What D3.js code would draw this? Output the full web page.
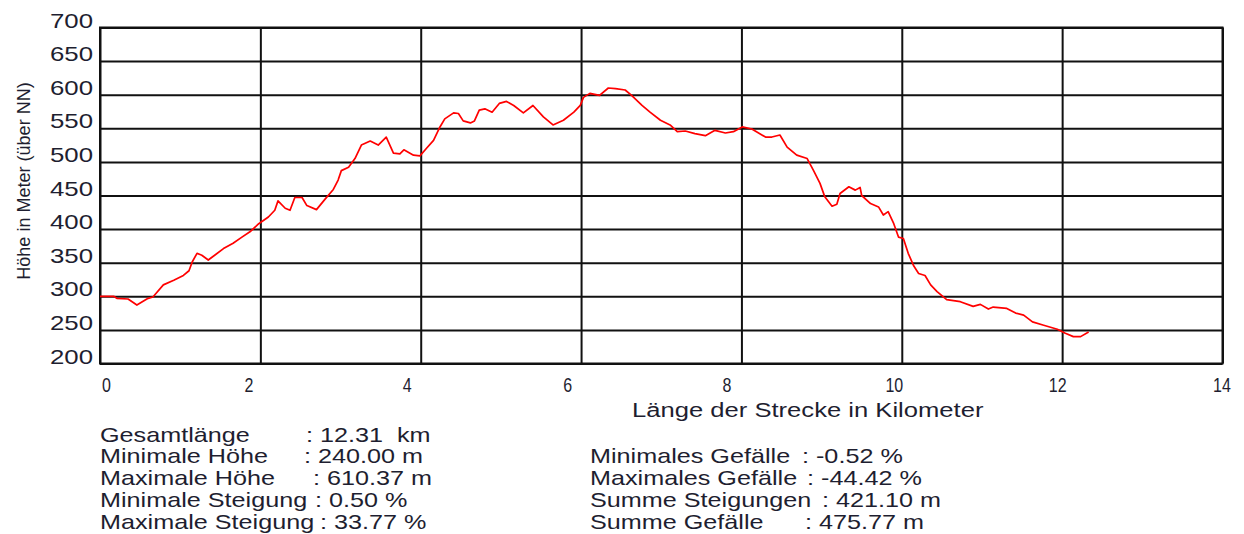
<!DOCTYPE html>
<html>
<head>
<meta charset="utf-8">
<script src="https://cdn.jsdelivr.net/npm/d3@7"></script>
<style>
  html, body { margin: 0; padding: 0; background: #ffffff; }
  svg { display: block; }
  text { font-family: "Liberation Sans", Arial, sans-serif; fill: #1e1e30; white-space: pre; }
</style>
</head>
<body>
<svg id="chart" width="1244" height="534"></svg>
<script>
// ---- data ----
const distanceKm = [0.00,0.17,0.21,0.35,0.46,0.60,0.66,0.79,0.92,1.04,1.11,1.15,1.21,1.27,1.35,1.43,1.54,1.66,1.77,1.87,1.98,2.10,2.18,2.22,2.31,2.37,2.43,2.52,2.58,2.70,2.81,2.91,2.97,3.01,3.10,3.18,3.26,3.37,3.47,3.57,3.66,3.74,3.79,3.91,3.99,4.07,4.16,4.24,4.30,4.41,4.47,4.53,4.62,4.67,4.73,4.80,4.89,4.98,5.07,5.16,5.28,5.40,5.53,5.65,5.78,5.91,5.99,6.03,6.11,6.23,6.34,6.43,6.55,6.63,6.76,6.86,6.99,7.11,7.20,7.30,7.42,7.55,7.67,7.80,7.90,8.01,8.13,8.30,8.38,8.48,8.57,8.69,8.82,8.90,8.98,9.04,9.13,9.19,9.23,9.34,9.42,9.48,9.50,9.61,9.71,9.77,9.83,9.90,9.96,10.02,10.08,10.15,10.21,10.29,10.36,10.44,10.56,10.73,10.89,10.98,11.08,11.14,11.31,11.42,11.52,11.63,11.77,11.94,12.04,12.14,12.23,12.33];
const elevationM = [300,300,297,296,287,297,299,317,324,331,338,351,364,361,354,361,371,379,388,396,408,418,428,442,431,428,447,447,435,429,445,459,473,487,492,505,525,531,525,537,513,512,518,510,509,520,532,552,564,573,572,561,558,561,577,579,574,587,590,584,573,584,567,555,562,574,584,596,602,599,610,609,607,599,584,574,562,555,545,546,542,539,547,543,545,552,549,537,537,540,522,510,505,487,468,448,434,437,453,463,458,462,450,438,433,421,426,408,388,386,364,345,334,331,317,307,295,292,285,288,281,284,282,275,272,262,257,251,245,240,240,247];

const yTickValues = [200,250,300,350,400,450,500,550,600,650,700];
const xTickValues = [0,2,4,6,8,10,12,14];

const yAxisTitle = "Höhe in Meter (über NN)";
const xAxisTitle = "Länge der Strecke in Kilometer";

const statsLeftLabels = ["Gesamtlänge", "Minimale Höhe", "Maximale Höhe", "Minimale Steigung", "Maximale Steigung"];
const statsLeftValues = [": 12.31  km", ": 240.00 m", ": 610.37 m", ": 0.50 %", ": 33.77 %"];
const statsRightLabels = ["Minimales Gefälle", "Maximales Gefälle", "Summe Steigungen", "Summe Gefälle"];
const statsRightValues = [": -0.52 %", ": -44.42 %", ": 421.10 m", ": 475.77 m"];

// ---- layout ----
const L = 100, R = 1222.5, T = 27.5, B = 363.5;
const textScale = 1.26;
const xLabelShift = [6, -12, -14, -14, -15, -8, -5, -1];
const leftColonX = [306, 304, 313, 315, 320];
const rightColonX = [802, 807, 822, 805];

const svg = d3.select("#chart");
svg.append("rect").attr("width", 1244).attr("height", 534).attr("fill", "#ffffff");

const x = d3.scaleLinear().domain([0, 14]).range([L, R]);
const y = d3.scaleLinear().domain([200, 700]).range([B, T]);

// horizontal grid + y labels
const gy = svg.append("g").attr("transform", `translate(${L},0)`)
  .call(d3.axisLeft(y).tickValues(yTickValues).tickSize(-(R - L)).tickFormat(d3.format("d")));
gy.select(".domain").remove();
gy.selectAll(".tick line").attr("stroke", "#111").attr("stroke-width", 2);
gy.selectAll(".tick text")
  .attr("x", null).attr("dy", null)
  .attr("text-anchor", "end")
  .attr("font-size", 20)
  .attr("fill", "#1e1e30")
  .attr("transform", "translate(-7,-0.5) scale(1.29,1)");

// vertical grid + x labels
const gx = svg.append("g").attr("transform", `translate(0,${B})`)
  .call(d3.axisBottom(x).tickValues(xTickValues).tickSize(-(B - T)).tickFormat(d3.format("d")));
gx.select(".domain").remove();
gx.selectAll(".tick line").attr("stroke", "#111").attr("stroke-width", 2);
gx.selectAll(".tick text")
  .attr("y", null).attr("dy", null)
  .attr("text-anchor", "middle")
  .attr("font-size", 20)
  .attr("fill", "#1e1e30")
  .attr("transform", (d, i) => `translate(${xLabelShift[i]},28.5) scale(0.8,1)`);

// frame
svg.append("rect").attr("x", L).attr("y", T).attr("width", R - L).attr("height", B - T)
  .attr("fill", "none").attr("stroke", "#111").attr("stroke-width", 2);

// profile line
const pts = distanceKm.map((k, i) => [k, elevationM[i]]);
svg.append("path").datum(pts)
  .attr("fill", "none").attr("stroke", "#ff0000").attr("stroke-width", 1.7)
  .attr("stroke-linejoin", "round")
  .attr("d", d3.line().x(d => x(d[0])).y(d => y(d[1])));

// y axis title
svg.append("text")
  .attr("transform", "translate(30,181) rotate(-90) scale(0.95,1)")
  .attr("text-anchor", "middle").attr("font-size", 19)
  .text(yAxisTitle);

// x axis title
svg.append("text")
  .attr("transform", `translate(632,416.5) scale(1.28,1)`)
  .attr("font-size", 20)
  .text(xAxisTitle);

// stats
const rowY = i => 441.5 + i * 21.8;
function statRow(x0, yy, label, value, colonX) {
  const t = svg.append("text")
    .attr("transform", `translate(${x0},${yy}) scale(${textScale},1)`)
    .attr("font-size", 20);
  t.append("tspan").attr("x", 0).text(label);
  t.append("tspan").attr("x", (colonX - x0) / textScale).text(value);
}
statsLeftLabels.forEach((lab, i) => statRow(100, rowY(i), lab, statsLeftValues[i], leftColonX[i]));
statsRightLabels.forEach((lab, i) => statRow(590, rowY(i + 1), lab, statsRightValues[i], rightColonX[i]));
</script>
</body>
</html>
